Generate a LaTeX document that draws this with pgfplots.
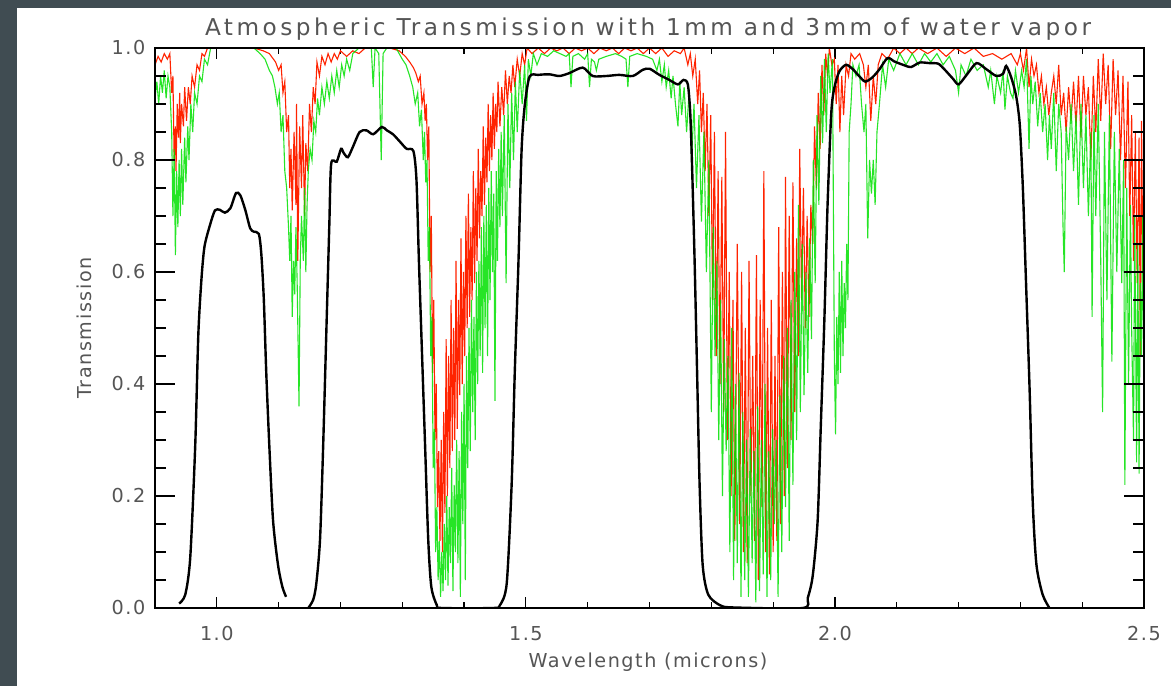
\documentclass[border=0pt]{standalone}
\usepackage{fontspec}
\setmainfont{DejaVu Sans}
\usepackage{pgfplots}
\usepackage{pgfplotstable}
\pgfplotsset{compat=1.18}
\definecolor{bg}{RGB}{64,76,82}
\definecolor{txt}{RGB}{85,85,85}
\definecolor{myred}{RGB}{255,35,0}
\definecolor{mygreen}{RGB}{0,225,0}
\newfontfamily\hfont[LetterSpace=8]{DejaVu Sans}
\newfontfamily\tfont[LetterSpace=15]{DejaVu Sans}
\newcommand\tickfont{\hfont\fontsize{9.6}{11}\selectfont}
\newcommand\titlefont{\tfont\fontsize{11.6}{13}\selectfont}

\pgfplotstableread{
x y
0.939 0.008
0.949 0.024
0.957 0.090
0.965 0.288
0.970 0.486
0.975 0.585
0.980 0.645
0.989 0.684
0.997 0.710
1.005 0.711
1.013 0.706
1.022 0.714
1.031 0.741
1.038 0.737
1.046 0.711
1.054 0.678
1.060 0.672
1.068 0.668
1.072 0.632
1.076 0.552
1.080 0.420
1.085 0.288
1.091 0.156
1.099 0.077
1.106 0.038
1.112 0.020
}\bandJ

\pgfplotstableread{
x y
1.148 0.000
1.156 0.015
1.161 0.044
1.167 0.123
1.172 0.288
1.177 0.486
1.182 0.684
1.185 0.793
1.194 0.797
1.201 0.820
1.205 0.813
1.212 0.805
1.220 0.823
1.231 0.850
1.242 0.853
1.253 0.846
1.267 0.859
1.275 0.853
1.285 0.846
1.296 0.833
1.307 0.820
1.318 0.816
1.323 0.764
1.327 0.618
1.331 0.486
1.337 0.288
1.342 0.123
1.347 0.038
1.356 0.005
1.364 0.000
1.447 0.000
1.458 0.005
1.469 0.044
1.477 0.222
1.482 0.420
1.488 0.618
1.493 0.816
1.498 0.896
1.506 0.949
1.520 0.952
1.538 0.953
1.554 0.950
1.570 0.955
1.592 0.965
1.608 0.950
1.630 0.950
1.651 0.952
1.673 0.950
1.689 0.961
1.700 0.963
1.716 0.952
1.732 0.943
1.746 0.935
1.755 0.943
1.762 0.935
1.766 0.882
1.769 0.783
1.773 0.618
1.777 0.420
1.781 0.222
1.786 0.077
1.795 0.024
1.814 0.005
1.835 0.001
1.948 0.000
1.956 0.018
1.964 0.057
1.972 0.156
1.977 0.321
1.983 0.519
1.988 0.718
1.994 0.883
1.999 0.929
2.007 0.958
2.018 0.970
2.029 0.962
2.039 0.950
2.049 0.940
2.061 0.948
2.072 0.962
2.085 0.982
2.096 0.976
2.110 0.970
2.123 0.966
2.137 0.974
2.153 0.973
2.167 0.972
2.177 0.962
2.191 0.945
2.200 0.935
2.213 0.952
2.229 0.973
2.245 0.962
2.261 0.950
2.272 0.954
2.277 0.968
2.285 0.948
2.293 0.915
2.299 0.863
2.304 0.750
2.309 0.585
2.315 0.387
2.320 0.189
2.326 0.077
2.336 0.024
2.347 0.000
}\bandHK

\pgfplotstableread{
x y
0.900 0.97
0.905 0.985
0.910 0.975
0.915 0.99
0.920 0.98
0.924 0.99
0.927 0.92
0.929 0.95
0.931 0.80
0.933 0.86
0.934 0.78
0.936 0.90
0.938 0.84
0.940 0.92
0.941 0.83
0.943 0.90
0.946 0.86
0.948 0.93
0.951 0.87
0.954 0.93
0.957 0.90
0.960 0.95
0.964 0.93
0.968 0.97
0.972 0.96
0.976 0.99
0.980 0.985
0.985 1.0
1.000 1.0
1.020 1.0
1.040 1.0
1.060 1.0
1.075 0.995
1.085 0.99
1.095 0.975
1.100 0.96
1.104 0.97
1.107 0.92
1.110 0.94
1.113 0.85
1.116 0.88
1.118 0.75
1.120 0.82
1.122 0.71
1.125 0.85
1.128 0.72
1.129 0.90
1.131 0.62
1.134 0.86
1.137 0.75
1.139 0.88
1.142 0.70
1.144 0.83
1.147 0.78
1.150 0.90
1.153 0.85
1.156 0.93
1.159 0.90
1.162 0.975
1.166 0.95
1.170 0.985
1.175 0.97
1.180 0.99
1.185 0.975
1.190 0.99
1.195 0.98
1.200 0.995
1.210 0.985
1.220 0.995
1.230 0.99
1.240 1.0
1.260 1.0
1.280 1.0
1.295 0.995
1.305 0.985
1.312 0.975
1.318 0.965
1.322 0.955
1.326 0.94
1.329 0.95
1.332 0.90
1.335 0.92
1.337 0.87
1.339 0.90
1.341 0.80
1.343 0.86
1.345 0.60
1.347 0.70
1.349 0.42
1.351 0.55
1.353 0.30
1.355 0.40
1.357 0.18
1.359 0.28
1.361 0.12
1.363 0.30
1.365 0.10
1.367 0.35
1.369 0.17
1.371 0.48
1.373 0.20
1.375 0.45
1.377 0.25
1.379 0.55
1.381 0.28
1.383 0.50
1.385 0.30
1.387 0.62
1.389 0.32
1.391 0.55
1.393 0.38
1.395 0.66
1.397 0.40
1.399 0.60
1.401 0.45
1.403 0.70
1.405 0.50
1.407 0.74
1.409 0.52
1.411 0.68
1.413 0.55
1.415 0.78
1.417 0.58
1.419 0.75
1.421 0.62
1.423 0.82
1.425 0.66
1.427 0.78
1.429 0.70
1.431 0.86
1.433 0.72
1.435 0.84
1.437 0.76
1.439 0.90
1.441 0.78
1.443 0.88
1.445 0.80
1.447 0.92
1.449 0.82
1.451 0.90
1.453 0.85
1.455 0.94
1.458 0.86
1.461 0.93
1.464 0.88
1.467 0.96
1.470 0.90
1.473 0.95
1.476 0.92
1.479 0.97
1.482 0.93
1.486 0.98
1.490 0.95
1.494 0.99
1.498 0.97
1.502 1.0
1.510 0.99
1.520 1.0
1.530 0.99
1.540 1.0
1.550 0.995
1.560 1.0
1.570 0.99
1.580 1.0
1.590 0.995
1.600 1.0
1.610 0.99
1.620 1.0
1.630 0.995
1.640 1.0
1.650 0.99
1.660 1.0
1.670 0.995
1.680 1.0
1.690 0.99
1.700 1.0
1.710 0.99
1.720 1.0
1.730 0.985
1.740 0.995
1.750 0.99
1.756 1.0
1.762 0.97
1.766 0.99
1.770 0.95
1.774 0.98
1.778 0.90
1.781 0.96
1.784 0.85
1.787 0.92
1.790 0.78
1.793 0.90
1.796 0.70
1.799 0.88
1.802 0.55
1.805 0.85
1.808 0.45
1.811 0.78
1.814 0.40
1.817 0.77
1.820 0.35
1.823 0.85
1.826 0.30
1.829 0.60
1.832 0.20
1.835 0.55
1.838 0.12
1.842 0.65
1.846 0.15
1.849 0.60
1.852 0.10
1.855 0.50
1.858 0.08
1.861 0.62
1.864 0.20
1.867 0.45
1.870 0.12
1.873 0.63
1.876 0.05
1.879 0.55
1.882 0.18
1.885 0.78
1.888 0.10
1.891 0.50
1.894 0.06
1.897 0.55
1.900 0.10
1.903 0.45
1.906 0.12
1.909 0.68
1.912 0.15
1.915 0.60
1.918 0.20
1.920 0.77
1.923 0.25
1.926 0.70
1.929 0.30
1.932 0.76
1.935 0.35
1.938 0.66
1.941 0.45
1.943 0.82
1.946 0.55
1.949 0.75
1.952 0.50
1.955 0.70
1.958 0.52
1.961 0.72
1.964 0.65
1.967 0.86
1.970 0.75
1.973 0.92
1.976 0.82
1.979 0.97
1.982 0.88
1.985 0.99
1.988 0.95
1.991 1.0
1.995 0.97
1.999 0.98
2.002 0.90
2.005 0.97
2.008 0.85
2.011 0.95
2.014 0.88
2.018 0.97
2.022 0.95
2.026 0.99
2.032 0.98
2.040 0.99
2.046 0.97
2.050 0.93
2.054 0.97
2.058 0.87
2.062 0.95
2.066 0.90
2.070 0.97
2.076 0.99
2.085 0.98
2.095 1.0
2.105 0.99
2.115 1.0
2.125 0.99
2.135 1.0
2.150 0.99
2.165 1.0
2.180 0.985
2.195 1.0
2.210 0.99
2.225 1.0
2.240 0.985
2.255 0.99
2.270 0.98
2.285 0.99
2.295 0.97
2.300 0.99
2.305 0.96
2.310 1.0
2.314 0.93
2.318 0.98
2.322 0.95
2.326 0.97
2.330 0.92
2.334 0.95
2.338 0.90
2.342 0.93
2.346 0.88
2.350 0.92
2.354 0.95
2.358 0.90
2.362 0.97
2.366 0.88
2.370 0.92
2.374 0.85
2.378 0.93
2.382 0.87
2.386 0.94
2.390 0.86
2.394 0.95
2.398 0.84
2.402 0.95
2.406 0.88
2.410 0.93
2.414 0.80
2.418 0.95
2.422 0.85
2.426 0.98
2.430 0.87
2.434 0.99
2.438 0.90
2.442 0.97
2.446 0.82
2.450 0.98
2.454 0.88
2.458 0.96
2.462 0.80
2.466 0.95
2.470 0.75
2.474 0.94
2.477 0.70
2.480 0.88
2.483 0.62
2.486 0.85
2.489 0.58
2.492 0.84
2.494 0.45
2.496 0.87
2.498 0.60
2.500 0.82
}\redtab

\pgfplotstableread{
x y
0.900 0.91
0.903 0.94
0.906 0.90
0.909 0.95
0.912 0.92
0.915 0.96
0.918 0.91
0.921 0.95
0.924 0.93
0.927 0.85
0.929 0.70
0.931 0.82
0.933 0.63
0.935 0.78
0.937 0.68
0.939 0.80
0.941 0.70
0.943 0.82
0.945 0.72
0.948 0.84
0.950 0.76
0.953 0.86
0.955 0.80
0.958 0.90
0.961 0.85
0.964 0.92
0.968 0.90
0.972 0.95
0.976 0.94
0.980 0.98
0.985 0.97
0.990 1.0
1.000 1.0
1.030 1.0
1.060 1.0
1.070 0.99
1.078 0.98
1.085 0.96
1.090 0.95
1.094 0.93
1.098 0.90
1.101 0.92
1.104 0.85
1.107 0.88
1.110 0.78
1.113 0.75
1.116 0.68
1.118 0.62
1.120 0.70
1.122 0.52
1.124 0.62
1.126 0.56
1.128 0.68
1.130 0.58
1.133 0.36
1.135 0.62
1.137 0.70
1.140 0.62
1.142 0.75
1.144 0.60
1.146 0.72
1.148 0.78
1.151 0.82
1.154 0.80
1.157 0.87
1.160 0.85
1.163 0.91
1.166 0.88
1.170 0.93
1.174 0.90
1.178 0.94
1.182 0.91
1.186 0.95
1.190 0.92
1.194 0.96
1.198 0.93
1.202 0.97
1.206 0.95
1.210 0.98
1.215 0.96
1.220 0.99
1.230 1.0
1.250 1.0
1.253 0.93
1.256 1.0
1.262 0.99
1.266 0.80
1.269 0.99
1.275 1.0
1.290 1.0
1.300 0.98
1.306 0.97
1.312 0.95
1.317 0.93
1.321 0.90
1.325 0.92
1.328 0.86
1.331 0.89
1.334 0.80
1.336 0.85
1.338 0.76
1.340 0.80
1.342 0.62
1.344 0.68
1.346 0.45
1.348 0.52
1.350 0.25
1.352 0.32
1.354 0.10
1.356 0.18
1.358 0.05
1.360 0.12
1.362 0.02
1.364 0.10
1.366 0.03
1.368 0.15
1.370 0.05
1.372 0.20
1.374 0.04
1.376 0.18
1.378 0.08
1.380 0.25
1.382 0.03
1.384 0.22
1.386 0.10
1.388 0.30
1.390 0.08
1.392 0.28
1.394 0.02
1.396 0.35
1.398 0.15
1.400 0.40
1.402 0.05
1.404 0.45
1.406 0.25
1.408 0.50
1.410 0.28
1.412 0.55
1.414 0.35
1.416 0.52
1.418 0.30
1.420 0.60
1.422 0.40
1.424 0.62
1.426 0.45
1.428 0.68
1.430 0.42
1.432 0.70
1.434 0.50
1.436 0.72
1.438 0.45
1.440 0.75
1.442 0.55
1.444 0.78
1.446 0.60
1.448 0.74
1.450 0.37
1.452 0.78
1.454 0.62
1.456 0.82
1.458 0.68
1.460 0.85
1.462 0.70
1.465 0.88
1.468 0.58
1.471 0.90
1.474 0.75
1.477 0.92
1.480 0.80
1.483 0.94
1.486 0.85
1.490 0.96
1.494 0.90
1.498 0.97
1.501 0.87
1.504 0.98
1.508 0.95
1.512 0.99
1.518 0.97
1.525 0.99
1.535 0.985
1.545 0.995
1.555 0.99
1.565 0.985
1.570 0.99
1.573 0.93
1.576 0.985
1.585 0.99
1.595 0.98
1.600 0.99
1.603 0.93
1.606 0.98
1.611 0.975
1.614 0.96
1.618 0.98
1.630 0.985
1.645 0.99
1.655 0.985
1.662 0.98
1.665 0.93
1.668 0.985
1.680 0.99
1.695 0.985
1.705 0.98
1.712 0.96
1.716 0.98
1.720 0.94
1.724 0.97
1.727 0.93
1.731 0.96
1.735 0.91
1.738 0.95
1.742 0.90
1.746 0.86
1.749 0.94
1.752 0.88
1.756 0.93
1.760 0.85
1.764 0.92
1.768 0.80
1.772 0.90
1.776 0.75
1.780 0.88
1.784 0.69
1.788 0.85
1.792 0.60
1.796 0.80
1.800 0.35
1.803 0.68
1.806 0.45
1.809 0.62
1.812 0.30
1.815 0.55
1.818 0.20
1.821 0.48
1.824 0.28
1.827 0.45
1.830 0.10
1.833 0.50
1.836 0.05
1.839 0.40
1.842 0.08
1.845 0.42
1.848 0.02
1.851 0.35
1.854 0.05
1.857 0.30
1.860 0.02
1.863 0.32
1.866 0.08
1.869 0.28
1.872 0.01
1.875 0.36
1.878 0.03
1.881 0.30
1.884 0.06
1.887 0.40
1.890 0.02
1.893 0.28
1.896 0.05
1.899 0.32
1.902 0.15
1.905 0.30
1.908 0.02
1.911 0.38
1.914 0.10
1.917 0.45
1.920 0.18
1.923 0.50
1.926 0.12
1.929 0.55
1.932 0.22
1.935 0.60
1.938 0.30
1.941 0.72
1.944 0.35
1.947 0.65
1.950 0.38
1.953 0.60
1.956 0.42
1.959 0.66
1.962 0.48
1.965 0.80
1.968 0.58
1.971 0.88
1.974 0.72
1.977 0.95
1.980 0.83
1.983 0.98
1.986 0.85
1.989 0.99
1.992 0.92
1.996 0.98
1.999 0.45
2.001 0.31
2.003 0.52
2.005 0.40
2.007 0.60
2.009 0.42
2.011 0.62
2.013 0.45
2.015 0.58
2.017 0.50
2.019 0.65
2.021 0.55
2.023 0.85
2.026 0.90
2.029 0.97
2.034 0.95
2.039 0.97
2.043 0.90
2.047 0.85
2.050 0.90
2.053 0.66
2.056 0.80
2.059 0.74
2.062 0.80
2.065 0.72
2.068 0.85
2.072 0.90
2.077 0.97
2.082 0.93
2.087 0.98
2.095 0.96
2.105 0.99
2.115 0.97
2.125 0.99
2.135 0.97
2.145 0.99
2.155 0.975
2.165 0.99
2.175 0.97
2.185 0.985
2.195 0.96
2.200 0.92
2.204 0.97
2.212 0.95
2.220 0.98
2.230 0.96
2.240 0.97
2.248 0.93
2.252 0.96
2.258 0.90
2.262 0.95
2.268 0.92
2.272 0.96
2.275 0.89
2.279 0.95
2.284 0.92
2.288 0.91
2.292 0.96
2.297 0.92
2.302 0.96
2.306 0.93
2.310 0.98
2.314 0.82
2.317 0.95
2.320 0.90
2.324 0.94
2.328 0.86
2.332 0.92
2.336 0.85
2.340 0.90
2.344 0.80
2.347 0.88
2.350 0.82
2.354 0.92
2.358 0.78
2.362 0.90
2.366 0.85
2.369 0.68
2.371 0.60
2.374 0.86
2.378 0.80
2.382 0.90
2.386 0.78
2.390 0.88
2.394 0.72
2.398 0.90
2.402 0.75
2.406 0.88
2.410 0.70
2.414 0.85
2.416 0.52
2.419 0.88
2.422 0.70
2.426 0.90
2.430 0.62
2.433 0.35
2.436 0.85
2.440 0.55
2.444 0.88
2.448 0.44
2.452 0.85
2.456 0.60
2.460 0.82
2.464 0.58
2.467 0.80
2.469 0.22
2.472 0.75
2.475 0.40
2.478 0.72
2.480 0.50
2.483 0.30
2.485 0.70
2.488 0.26
2.490 0.65
2.492 0.24
2.494 0.58
2.496 0.45
2.498 0.70
2.500 0.40
}\greentab

\begin{document}
\begin{tikzpicture}
\useasboundingbox (0,0) rectangle (585.5pt,343pt);
\fill[bg] (0,0) rectangle (585.5pt,343pt);
\fill[white] (8.5pt,0) rectangle (585.5pt,339pt);
\begin{axis}[
  at={(77.5pt,39pt)}, anchor=south west,
  scale only axis, width=494.5pt, height=280pt,
  xmin=0.9, xmax=2.5, ymin=0, ymax=1,
  xtick={1.0,1.5,2.0,2.5}, minor x tick num=4,
  ytick=\empty,
  tick pos=both, tick align=inside,
  major tick length=5.5pt, minor tick length=3pt,
  axis line style={black, line width=0.7pt},
  every tick/.style={black, line width=0.6pt},
  xticklabel style={font=\tickfont, text=txt, yshift=-5.5pt},
  /pgf/number format/assume math mode=true,
  xticklabel={\pgfmathprintnumber[fixed,fixed zerofill,precision=1]{\tick}},
]
\addplot[myred, line width=0.55pt] table {\redtab};
\addplot[mygreen, line width=0.55pt, opacity=0.85] table {\greentab};
\addplot[black, line width=1.2pt, smooth, tension=0.45] table {\bandJ};
\addplot[black, line width=1.2pt, smooth, tension=0.45] table {\bandHK};
\end{axis}
\begin{axis}[
  at={(77.5pt,39pt)}, anchor=south west,
  scale only axis, width=494.5pt, height=280pt,
  xmin=0.9, xmax=2.5, ymin=0, ymax=1,
  xtick=\empty,
  ytick={0,0.2,0.4,0.6,0.8,1.0}, minor y tick num=3,
  tick pos=both, tick align=inside,
  major tick length=10pt, minor tick length=5.5pt,
  axis line style={black, line width=0.7pt},
  every tick/.style={black, line width=0.6pt},
  yticklabel style={font=\tickfont, text=txt, xshift=-1.3pt},
  /pgf/number format/assume math mode=true,
  yticklabel={\pgfmathprintnumber[fixed,fixed zerofill,precision=1]{\tick}},
]
\end{axis}
\node[font=\titlefont, text=txt, anchor=base] at (324pt,325pt) {Atmospheric Transmission with 1mm and 3mm of water vapor};
\node[font=\tickfont, text=txt, anchor=base] at (324pt,9.5pt) {Wavelength (microns)};
\node[font=\tickfont, text=txt, anchor=base, rotate=90] at (45.5pt,179pt) {Transmission};
\end{tikzpicture}
\end{document}
